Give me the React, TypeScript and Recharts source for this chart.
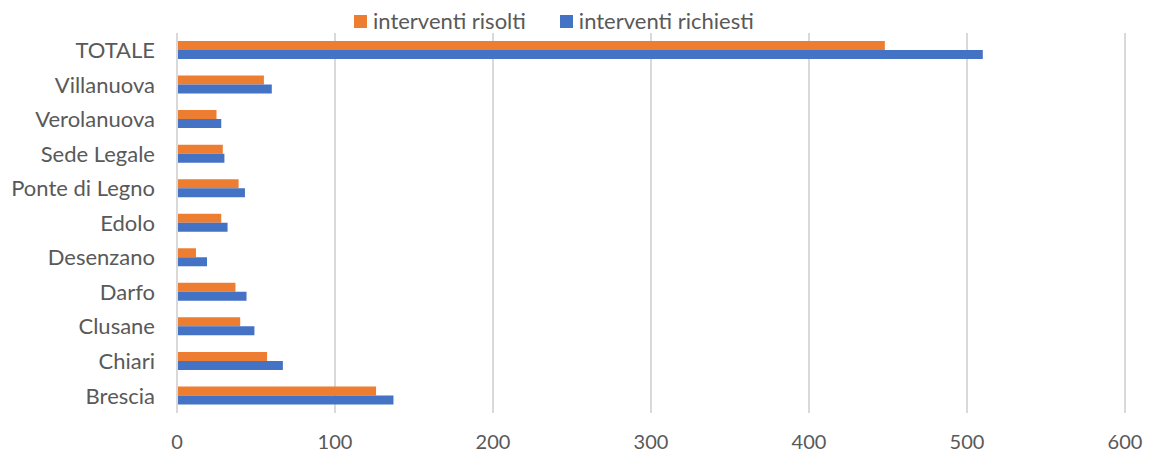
import { Bar, BarChart, CartesianGrid, XAxis, YAxis } from "recharts"

const CATEGORIES = [
  "TOTALE",
  "Villanuova",
  "Verolanuova",
  "Sede Legale",
  "Ponte di Legno",
  "Edolo",
  "Desenzano",
  "Darfo",
  "Clusane",
  "Chiari",
  "Brescia",
]
const RISOLTI = [448, 55, 25, 29, 39, 28, 12, 37, 40, 57, 126]
const RICHIESTI = [510, 60, 28, 30, 43, 32, 19, 44, 49, 67, 137]
const X_TICKS = [0, 100, 200, 300, 400, 500, 600]

const ORANGE = "#ed7d31"
const BLUE = "#4472c4"
const TEXT = "#595959"
const GRID = "#d9d9d9"
const FONT = "Lato, 'Open Sans', sans-serif"
const FS = 22

const data = CATEGORIES.map((name, i) => ({
  name,
  risolti: RISOLTI[i],
  richiesti: RICHIESTI[i],
}))

function ChartLegend() {
  const items = [
    { label: "interventi risolti", color: ORANGE },
    { label: "interventi richiesti", color: BLUE },
  ]
  return (
    <div
      style={{
        position: "absolute",
        top: 9,
        left: 354,
        display: "flex",
        gap: 34,
        fontFamily: FONT,
        fontSize: FS,
        lineHeight: "24px",
        color: TEXT,
      }}
    >
      {items.map((it) => (
        <div key={it.label} style={{ display: "flex", alignItems: "center", gap: 6 }}>
          <span style={{ width: 13, height: 13, background: it.color, display: "inline-block" }} />
          <span>{it.label}</span>
        </div>
      ))}
    </div>
  )
}

export default function App() {
  return (
    <div style={{ position: "absolute", left: 0, top: 0, width: 1149, height: 455, background: "#fff" }}>
      <BarChart
        width={1149}
        height={455}
        data={data}
        layout="vertical"
        margin={{ top: 33, right: 24, bottom: 0, left: 0 }}
        barGap={0}
        barSize={9}
      >
        <CartesianGrid horizontal={false} stroke={GRID} strokeWidth={2} />
        <XAxis
          type="number"
          domain={[0, 600]}
          ticks={X_TICKS}
          axisLine={false}
          tickLine={false}
          tickSize={0}
          tickMargin={22}
          height={42}
          tick={{ fill: TEXT, fontSize: 20, fontFamily: FONT }}
        />
        <YAxis
          type="category"
          dataKey="name"
          width={177}
          axisLine={{ stroke: GRID, strokeWidth: 2 }}
          tickLine={false}
          tickSize={0}
          tickMargin={22}
          interval={0}
          tick={{ fill: TEXT, fontSize: FS, fontFamily: FONT }}
        />
        <Bar dataKey="risolti" name="interventi risolti" fill={ORANGE} isAnimationActive={false} />
        <Bar dataKey="richiesti" name="interventi richiesti" fill={BLUE} isAnimationActive={false} />
      </BarChart>
      <ChartLegend />
    </div>
  )
}
